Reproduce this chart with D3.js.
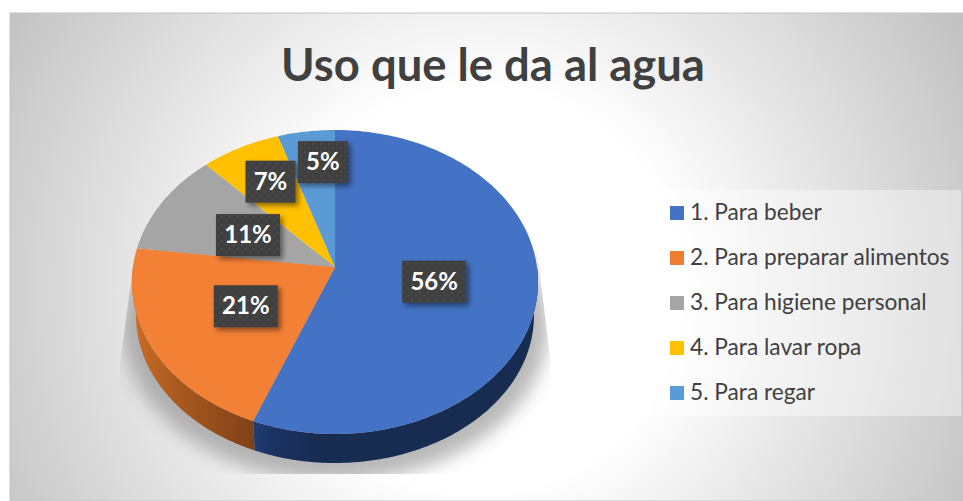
<!DOCTYPE html>
<meta charset="utf-8">
<style>
  html, body { margin: 0; padding: 0; background: #fff; }
  svg { display: block; }
</style>
<script src="https://d3js.org/d3.v7.min.js"></script>
<div id="my_dataviz"></div>
<script>

  // data
  var categories = ["1. Para beber", "2. Para preparar alimentos", "3. Para higiene personal", "4. Para lavar ropa", "5. Para regar"];
  var values = [56, 21, 11, 7, 5];
  var colors = ["#4472c4", "#f28035", "#a5a5a5", "#ffc000", "#5b9bd5"];
  var legendColors = ["#4472c4", "#ed7d31", "#a5a5a5", "#ffc000", "#5b9bd5"];
  var titleText = "Uso que le da al agua";

  var width = 963, height = 501;

  var svg = d3.select("#my_dataviz")
    .append("svg")
      .attr("width", width)
      .attr("height", height);

  var defs = svg.append("defs");

  // panel background
  var bg = defs.append("radialGradient")
    .attr("id", "panelFill")
    .attr("gradientUnits", "userSpaceOnUse")
    .attr("cx", 480).attr("cy", 290).attr("r", 560);
  bg.append("stop").attr("offset", "0.36").attr("stop-color", "#ffffff");
  bg.append("stop").attr("offset", "1").attr("stop-color", "#c0c0c0");

  defs.append("filter").attr("id", "shadowBlur")
    .attr("x", "-20%").attr("y", "-20%").attr("width", "140%").attr("height", "140%")
    .append("feGaussianBlur").attr("stdDeviation", 9);

  defs.append("clipPath").attr("id", "shadowClip")
    .append("path").attr("d", "M135,250L120,365L120,474L551,474L551,365L537,250Z");

  var labelShadow = defs.append("filter").attr("id", "labelShadow")
    .attr("x", "-30%").attr("y", "-30%").attr("width", "170%").attr("height", "170%");
  labelShadow.append("feDropShadow")
    .attr("dx", 3).attr("dy", 3).attr("stdDeviation", 2.5)
    .attr("flood-color", "#000").attr("flood-opacity", 0.45);

  // dotted texture of the label boxes
  var dots = defs.append("pattern").attr("id", "labelDots")
    .attr("patternUnits", "userSpaceOnUse").attr("width", 8).attr("height", 8);
  dots.append("rect").attr("width", 8).attr("height", 8).attr("fill", "#404040");
  dots.append("circle").attr("cx", 2).attr("cy", 2).attr("r", 1).attr("fill", "#505050");
  dots.append("circle").attr("cx", 6).attr("cy", 6).attr("r", 1).attr("fill", "#505050");

  // side wall gradients
  function wallGradient(id, x1, x2, c1, c2, c3) {
    var g = defs.append("linearGradient").attr("id", id)
      .attr("gradientUnits", "userSpaceOnUse")
      .attr("x1", x1).attr("x2", x2).attr("y1", 0).attr("y2", 0);
    g.append("stop").attr("offset", 0).attr("stop-color", c1);
    g.append("stop").attr("offset", 0.35).attr("stop-color", c2);
    g.append("stop").attr("offset", 1).attr("stop-color", c3);
  }
  wallGradient("wall1", 254, 320, "#203c74", "#1b3260", "#182b50");
  wallGradient("wall0", 138, 256, "#c76a25", "#a8591f", "#7e4018");

  svg.append("rect")
    .attr("x", 10).attr("y", 13)
    .attr("width", width - 10).attr("height", height - 13)
    .attr("fill", "url(#panelFill)")
    .attr("stroke", "#c4c4c4").attr("stroke-width", 1);

  // title
  svg.append("text")
    .attr("x", 493).attr("y", 81)
    .attr("text-anchor", "middle")
    .style("font-family", "Lato")
    .style("font-weight", 700)
    .style("font-size", "45.4px")
    .attr("fill", "#404040")
    .text(titleText);

  // pie slices, angles from d3.pie
  var pie = d3.pie().sort(null).value(function(d) { return d; });
  var slices = pie(values);

  // perspective view of the disc: near edge is drawn bigger than the far edge
  var cx = 335, cy = 267, tilt = 0.0987;
  function project(angle, r, sx, sy, dy) {
    var x = Math.sin(angle) * r, y = -Math.cos(angle) * r;
    var w = 1 - tilt * y;
    return [cx + sx * x / w, cy + dy + sy * y / w];
  }
  function topPoint(angle, r) { return project(angle, r, 202, 150.5, 0); }
  function bottomPoint(angle) { return project(angle, 1, 198, 146, 34); }

  function sample(a0, a1) {
    var n = Math.max(2, Math.ceil((a1 - a0) * 60));
    return d3.range(n + 1).map(function(i) { return a0 + (a1 - a0) * i / n; });
  }
  var line = d3.line();

  // shadow under the pie
  svg.append("g").attr("clip-path", "url(#shadowClip)")
    .append("path")
      .attr("d", line(sample(0, 2 * Math.PI).map(function(a) { return project(a, 1, 212, 154, 43); })) + "Z")
      .attr("fill", "#8c8c8c")
      .attr("opacity", 0.62)
      .attr("filter", "url(#shadowBlur)");

  // side wall: only the part of the rim that faces the viewer
  var walls = [
    { slice: slices[1], a0: slices[1].startAngle, a1: 1.5 * Math.PI, fill: "url(#wall0)" },
    { slice: slices[0], a0: 0.5 * Math.PI, a1: slices[0].endAngle, fill: "url(#wall1)" }
  ];
  svg.append("g").selectAll("path")
    .data(walls)
    .join("path")
      .attr("d", function(d) {
        var angles = sample(d.a0, d.a1);
        var top = angles.map(function(a) { return topPoint(a, 1); });
        var bottom = angles.slice().reverse().map(bottomPoint);
        return line(top.concat(bottom)) + "Z";
      })
      .attr("fill", function(d) { return d.fill; });

  // top face
  svg.append("g").selectAll("path")
    .data(slices)
    .join("path")
      .attr("d", function(d) {
        var rim = sample(d.startAngle, d.endAngle).map(function(a) { return topPoint(a, 1); });
        return line([[cx, cy]].concat(rim)) + "Z";
      })
      .attr("fill", function(d, i) { return colors[i]; });

  // labels sit at mid radius, the two small slices are pushed out and sideways
  var labelRadius = [0.5, 0.5, 0.5, 0.75, 0.75];
  var labelShift = [[-1, 0.5], [0, 0], [1, 1.5], [8, 6], [10, -1]];
  var labelWidth = [64, 64, 64, 50, 50];
  var labelHeight = 42;

  var labels = svg.append("g").selectAll("g")
    .data(slices)
    .join("g")
      .attr("transform", function(d, i) {
        var p = topPoint((d.startAngle + d.endAngle) / 2, labelRadius[i]);
        return "translate(" + (p[0] + labelShift[i][0]) + "," + (p[1] + labelShift[i][1]) + ")";
      });

  labels.append("rect")
    .attr("x", function(d, i) { return -labelWidth[i] / 2; })
    .attr("y", -labelHeight / 2)
    .attr("width", function(d, i) { return labelWidth[i]; })
    .attr("height", labelHeight)
    .attr("fill", "url(#labelDots)")
    .attr("filter", "url(#labelShadow)");

  labels.append("text")
    .attr("y", 8)
    .attr("text-anchor", "middle")
    .style("font-family", "Lato")
    .style("font-weight", 700)
    .style("font-size", "24px")
    .attr("fill", "#fff")
    .text(function(d) { return d.data + "%"; });

  // legend
  svg.append("rect")
    .attr("x", 658).attr("y", 190)
    .attr("width", 303).attr("height", 226)
    .attr("fill", "#fff").attr("fill-opacity", 0.4);

  var legend = svg.append("g").selectAll("g")
    .data(categories)
    .join("g")
      .attr("transform", function(d, i) { return "translate(670," + (206 + i * 45) + ")"; });

  legend.append("rect")
    .attr("width", 14).attr("height", 14)
    .attr("fill", function(d, i) { return legendColors[i]; });

  legend.append("text")
    .attr("x", 20).attr("y", 14)
    .style("font-family", "Lato")
    .style("font-size", "22.7px")
    .attr("fill", "#404040")
    .text(function(d) { return d; });

</script>
